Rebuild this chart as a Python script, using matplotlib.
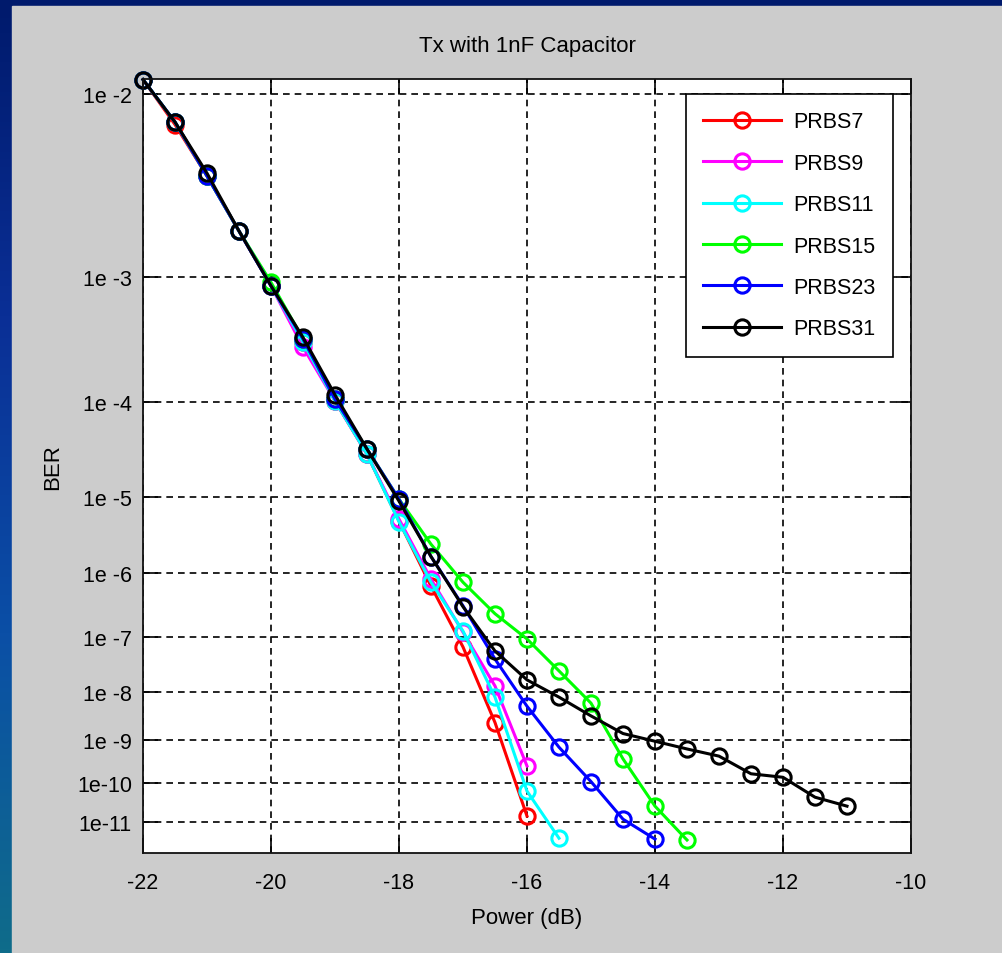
import numpy as np
import matplotlib
matplotlib.use("Agg")
import matplotlib.pyplot as plt
from matplotlib.colors import LinearSegmentedColormap
from matplotlib.patches import Rectangle
from matplotlib.ticker import FixedLocator, NullLocator

plt.rcParams['font.family'] = ['Liberation Sans', 'DejaVu Sans']
plt.rcParams['axes.unicode_minus'] = False

# Data (BER vs power)
power = np.arange(-22, -10.9, 0.5)

ber_prbs7 = [1.15e-2, 7.3e-3, 4.06e-3, 1.98e-3, 8.7e-4, 3.3e-4, 1.02e-4, 3.0e-5,
             5.0e-6, 6.4e-7, 6.7e-8, 2.4e-9, 1.45e-11]
ber_prbs9 = [1.15e-2, 7.5e-3, 4.06e-3, 1.98e-3, 8.7e-4, 3.0e-4, 1.02e-4, 3.0e-5,
             5.3e-6, 8.1e-7, 1.2e-7, 1.3e-8, 2.6e-10]
ber_prbs11 = [1.15e-2, 7.5e-3, 4.06e-3, 1.98e-3, 8.7e-4, 3.3e-4, 1.02e-4, 3.0e-5,
              4.9e-6, 7.3e-7, 1.25e-7, 7.9e-9, 6.4e-11, 3.6e-12]
ber_prbs15 = [1.15e-2, 7.5e-3, 4.06e-3, 1.98e-3, 9.2e-4, 3.5e-4, 1.06e-4, 3.4e-5,
              9.3e-6, 2.5e-6, 7.3e-7, 2.4e-7, 9.2e-8, 2.5e-8, 6.0e-9, 3.8e-10,
              2.65e-11, 3.2e-12]
ber_prbs23 = [1.15e-2, 7.5e-3, 4.06e-3, 1.98e-3, 8.7e-4, 3.5e-4, 1.06e-4, 3.4e-5,
              9.3e-6, 1.7e-6, 3.2e-7, 4.1e-8, 5.2e-9, 7.0e-10, 1.1e-10, 1.2e-11,
              3.4e-12]
ber_prbs31 = [1.15e-2, 7.5e-3, 4.2e-3, 1.98e-3, 8.7e-4, 3.6e-4, 1.16e-4, 3.4e-5,
              8.8e-6, 1.7e-6, 3.1e-7, 5.7e-8, 1.7e-8, 7.9e-9, 3.3e-9, 1.4e-9,
              9.5e-10, 6.4e-10, 4.4e-10, 1.7e-10, 1.4e-10, 4.5e-11, 2.65e-11]

labels = ["PRBS7", "PRBS9", "PRBS11", "PRBS15", "PRBS23", "PRBS31"]
series = [ber_prbs7, ber_prbs9, ber_prbs11, ber_prbs15, ber_prbs23, ber_prbs31]
colors = ["#ff0000", "#ff00ff", "#00ffff", "#00ff00", "#0000ff", "#000000"]

ytick_vals = [1e-2, 1e-3, 1e-4, 1e-5, 1e-6, 1e-7, 1e-8, 1e-9, 1e-10, 1e-11]
ytick_labels = ["1e -2", "1e -3", "1e -4", "1e -5", "1e -6", "1e -7", "1e -8",
                "1e -9", "1e-10", "1e-11"]
xticks = [-22, -20, -18, -16, -14, -12, -10]


# BER axis: log of -log(2*BER)
def fwd(b):
    b = np.asarray(b, dtype=float)
    with np.errstate(all="ignore"):
        return -np.log10(-np.log10(2 * b))


def inv(z):
    z = np.asarray(z, dtype=float)
    with np.errstate(all="ignore"):
        return 10 ** (-(10 ** (-z))) / 2


fig = plt.figure(figsize=(10.02, 9.54), dpi=100)

# slide background: blue gradient + gray panel
bg = fig.add_axes([0, 0, 1, 1], zorder=-10)
cmap = LinearSegmentedColormap.from_list("slide", ["#001a6c", "#0a2f96", "#0b4fa6", "#0f6c8a"])
grad = np.linspace(0, 1, 256).reshape(-1, 1)
bg.imshow(grad, aspect="auto", cmap=cmap, extent=[0, 1, 0, 1], origin="upper")
bg.add_patch(Rectangle((12 / 1002, 0), 1, 1 - 7 / 954, color="#cccccc", transform=bg.transAxes))
bg.set_xlim(0, 1)
bg.set_ylim(0, 1)
bg.axis("off")

ax = fig.add_axes([143 / 1002, 100 / 954, 768 / 1002, 774 / 954])
ax.set_facecolor("white")
ax.set_yscale("function", functions=(fwd, inv))

for lab, ber, col in zip(labels, series, colors):
    x = power[:len(ber)]
    ax.plot(x, ber, color=col, lw=2.2, marker="o", ms=11, mfc="none",
            mec=col, mew=2.2, label=lab, clip_on=False)

ax.set_xlim(-22, -10)
ax.set_ylim(1.355e-12, 1.156e-2)
ax.yaxis.set_major_locator(FixedLocator(ytick_vals))
ax.yaxis.set_minor_locator(NullLocator())
ax.set_yticklabels(ytick_labels)
ax.set_xticks(xticks)
ax.set_xticklabels([str(v) for v in xticks])

ax.grid(True, color="black", ls=(0, (4, 3)), lw=1.2)
ax.tick_params(direction="in", length=11, width=1.2, top=True, right=True,
               labelsize=15.5, colors="black")
ax.tick_params(axis="x", pad=14)
ax.tick_params(axis="y", pad=8)
for s in ax.spines.values():
    s.set_linewidth(1.3)
    s.set_color("#111111")

ax.set_title("Tx with 1nF Capacitor", fontsize=16, pad=20)
ax.set_xlabel("Power (dB)", fontsize=16, labelpad=10)
ax.set_ylabel("BER", fontsize=16, labelpad=10)

leg = ax.legend(loc="upper right", bbox_to_anchor=(893 / 1002, 1 - 95 / 954),
                bbox_transform=fig.transFigure, borderaxespad=0, fontsize=15.5,
                handlelength=3.6, labelspacing=0.95, fancybox=False, framealpha=1,
                edgecolor="black", borderpad=0.8, handletextpad=0.6)
leg.get_frame().set_linewidth(1.2)

fig.savefig("out.png", dpi=100)
